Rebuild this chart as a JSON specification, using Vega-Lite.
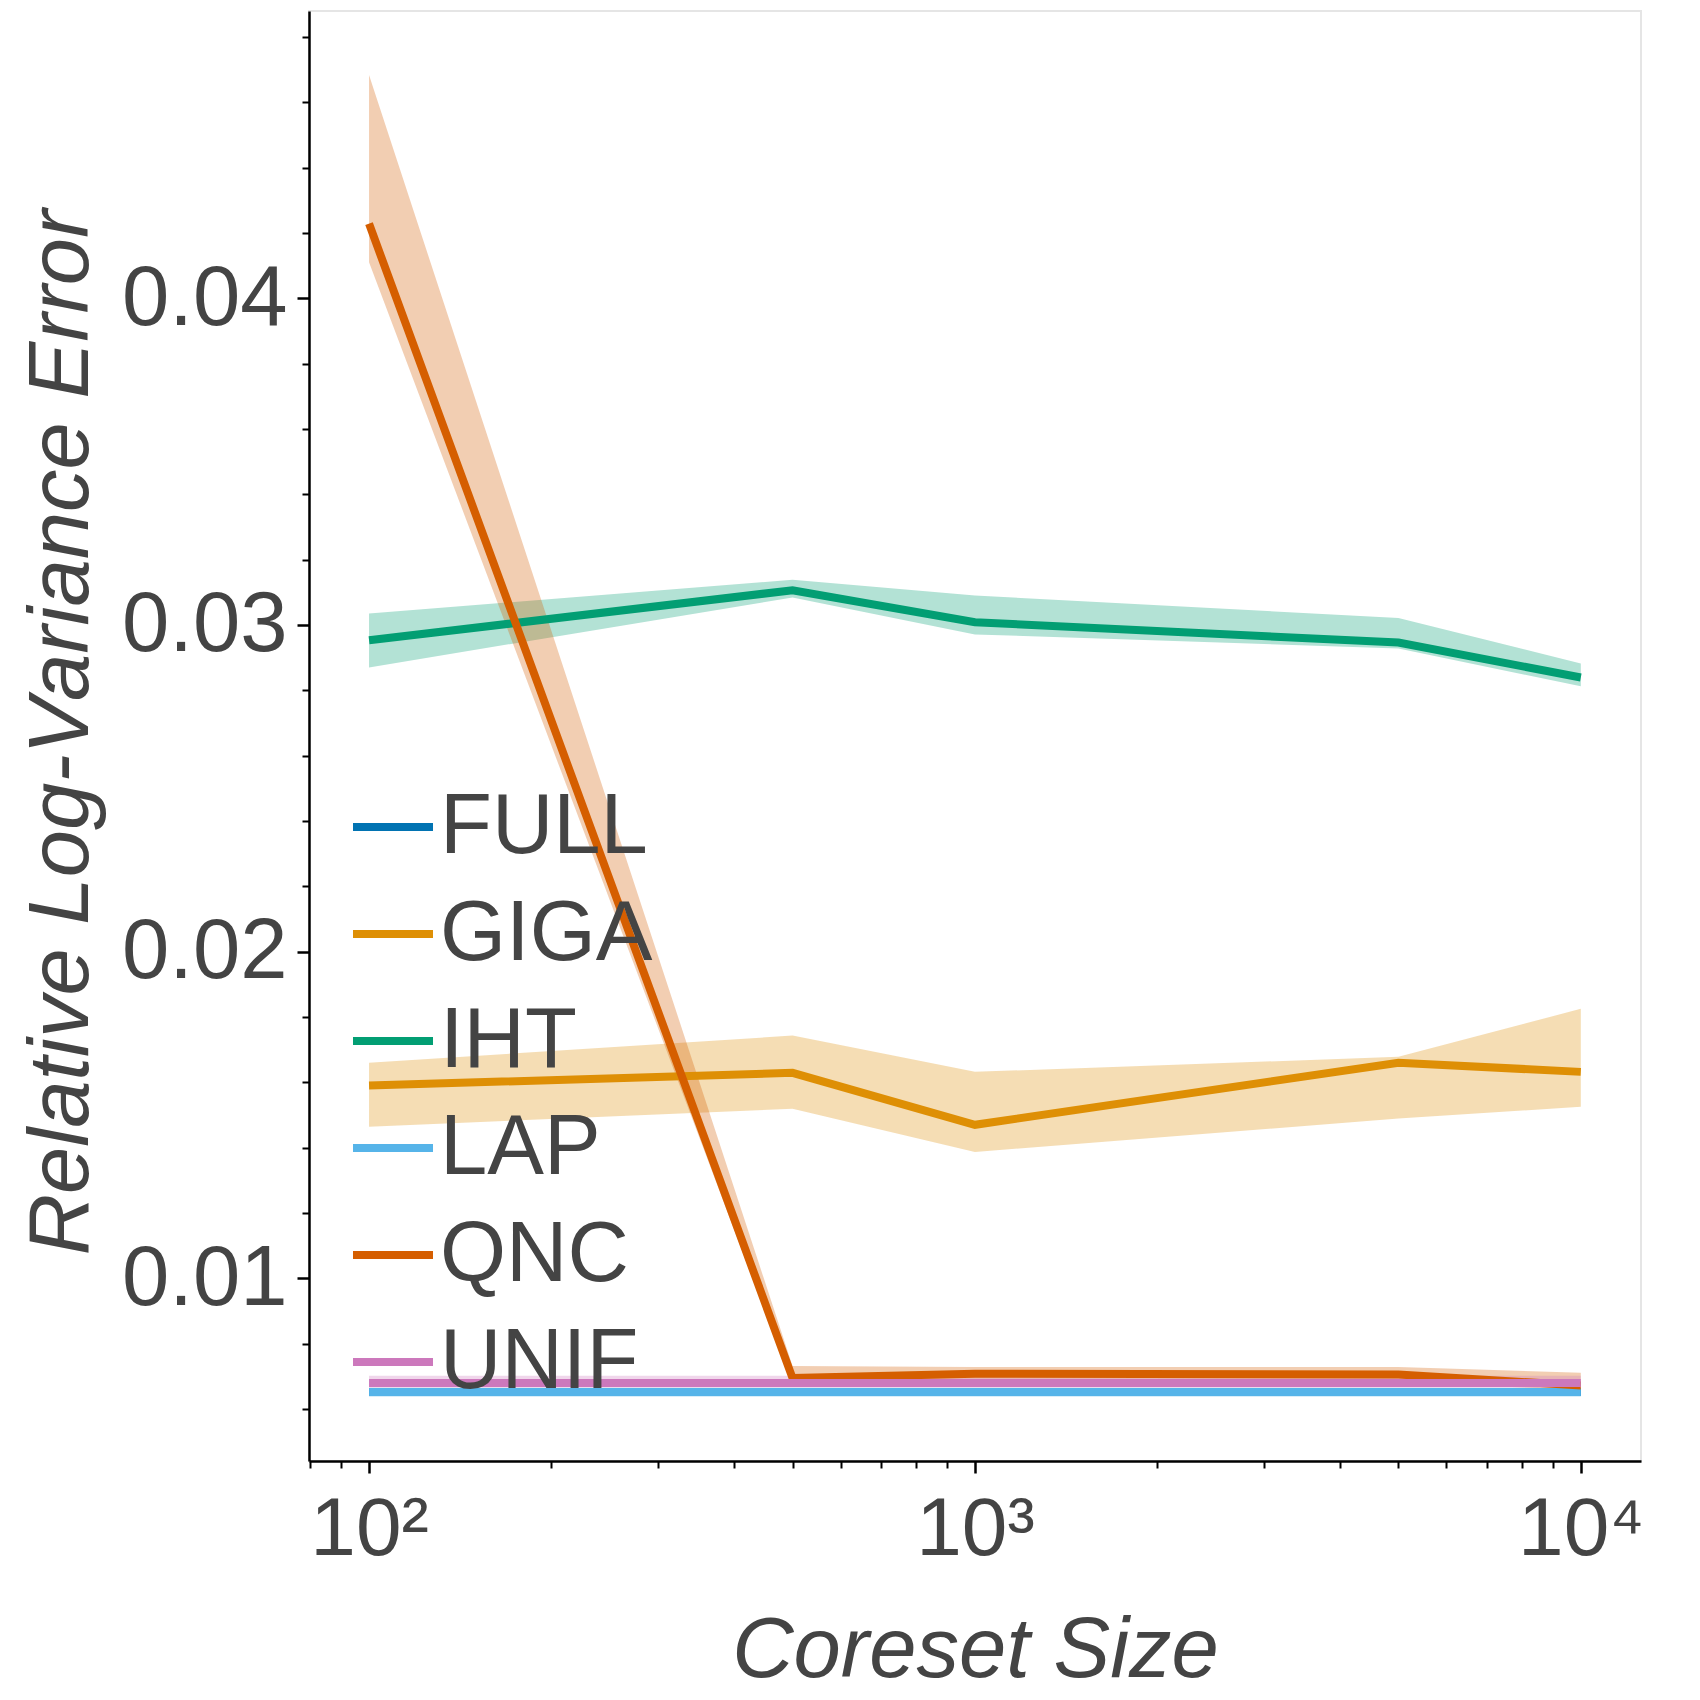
{
  "$schema": "https://vega.github.io/schema/vega-lite/v6.json",
  "width": 1332,
  "height": 1450,
  "autosize": {"type": "none"},
  "padding": {"left": 309, "top": 11, "right": 59, "bottom": 239},
  "background": "white",
  "config": {
    "font": "Liberation Sans",
    "view": {"stroke": "#e5e5e5", "strokeWidth": 2}
  },
  "data": {
    "values": [
      {"method": "FULL", "size": 100, "mean": 0.00652, "lo": 0.00642, "hi": 0.00662},
      {"method": "FULL", "size": 500, "mean": 0.00652, "lo": 0.00642, "hi": 0.00662},
      {"method": "FULL", "size": 1000, "mean": 0.00652, "lo": 0.00642, "hi": 0.00662},
      {"method": "FULL", "size": 5000, "mean": 0.00652, "lo": 0.00642, "hi": 0.00662},
      {"method": "FULL", "size": 10000, "mean": 0.00652, "lo": 0.00642, "hi": 0.00662},
      {"method": "GIGA", "size": 100, "mean": 0.0159, "lo": 0.01464, "hi": 0.0166},
      {"method": "GIGA", "size": 500, "mean": 0.01629, "lo": 0.01519, "hi": 0.01743},
      {"method": "GIGA", "size": 1000, "mean": 0.0147, "lo": 0.01387, "hi": 0.01632},
      {"method": "GIGA", "size": 5000, "mean": 0.0166, "lo": 0.01489, "hi": 0.01678},
      {"method": "GIGA", "size": 10000, "mean": 0.01632, "lo": 0.01525, "hi": 0.01825},
      {"method": "IHT", "size": 100, "mean": 0.02953, "lo": 0.0287, "hi": 0.03035},
      {"method": "IHT", "size": 500, "mean": 0.03106, "lo": 0.03084, "hi": 0.03138},
      {"method": "IHT", "size": 1000, "mean": 0.03008, "lo": 0.02971, "hi": 0.0309},
      {"method": "IHT", "size": 5000, "mean": 0.02946, "lo": 0.02928, "hi": 0.03021},
      {"method": "IHT", "size": 10000, "mean": 0.02839, "lo": 0.02812, "hi": 0.02882},
      {"method": "LAP", "size": 100, "mean": 0.00652, "lo": 0.00638, "hi": 0.00665},
      {"method": "LAP", "size": 500, "mean": 0.00652, "lo": 0.00638, "hi": 0.00665},
      {"method": "LAP", "size": 1000, "mean": 0.00652, "lo": 0.00638, "hi": 0.00665},
      {"method": "LAP", "size": 5000, "mean": 0.00652, "lo": 0.00638, "hi": 0.00665},
      {"method": "LAP", "size": 10000, "mean": 0.00652, "lo": 0.00638, "hi": 0.00665},
      {"method": "QNC", "size": 100, "mean": 0.04228, "lo": 0.0411, "hi": 0.04683},
      {"method": "QNC", "size": 500, "mean": 0.00695, "lo": 0.00675, "hi": 0.00732},
      {"method": "QNC", "size": 1000, "mean": 0.00708, "lo": 0.0068, "hi": 0.00729},
      {"method": "QNC", "size": 5000, "mean": 0.00706, "lo": 0.0068, "hi": 0.00729},
      {"method": "QNC", "size": 10000, "mean": 0.00672, "lo": 0.0066, "hi": 0.00711},
      {"method": "UNIF", "size": 100, "mean": 0.0068, "lo": 0.00665, "hi": 0.00702},
      {"method": "UNIF", "size": 500, "mean": 0.0068, "lo": 0.00665, "hi": 0.00702},
      {"method": "UNIF", "size": 1000, "mean": 0.0068, "lo": 0.00665, "hi": 0.00702},
      {"method": "UNIF", "size": 5000, "mean": 0.0068, "lo": 0.00665, "hi": 0.00702},
      {"method": "UNIF", "size": 10000, "mean": 0.0068, "lo": 0.00665, "hi": 0.00702}
    ]
  },
  "layer": [
    {
      "mark": {"type": "area", "fillOpacity": 0.3},
      "encoding": {
        "x": {
          "field": "size",
          "type": "quantitative",
          "scale": {"type": "log", "domain": [79.6, 12570], "nice": false},
          "axis": {
            "orient": "bottom",
            "values": [80, 90, 200, 300, 400, 500, 600, 700, 800, 900, 2000, 3000, 4000, 5000, 6000, 7000, 8000, 9000],
            "labels": false, "domain": false, "grid": false, "title": null,
            "tickSize": 7, "tickWidth": 2, "tickColor": "black"
          }
        },
        "y": {
          "field": "lo",
          "type": "quantitative",
          "scale": {"domain": [0.00441, 0.04879], "nice": false, "zero": false},
          "axis": {
            "orient": "left",
            "values": [0.006, 0.008, 0.012, 0.014, 0.016, 0.018, 0.022, 0.024, 0.026, 0.028, 0.032, 0.034, 0.036, 0.038, 0.042, 0.044, 0.046, 0.048],
            "labels": false, "domain": false, "grid": false, "title": null,
            "tickSize": 7, "tickWidth": 2, "tickColor": "black"
          }
        },
        "y2": {"field": "hi"},
        "color": {
          "field": "method",
          "type": "nominal",
          "scale": {
            "domain": ["FULL", "GIGA", "IHT", "LAP", "QNC", "UNIF"],
            "range": ["#0173b2", "#de8f05", "#029e73", "#56b4e9", "#d55e00", "#cc78bc"]
          }
        }
      }
    },
    {
      "mark": {"type": "line", "strokeWidth": 8},
      "encoding": {
        "x": {
          "field": "size",
          "type": "quantitative",
          "axis": {
            "orient": "bottom",
            "values": [100, 1000, 10000],
            "labelExpr": "datum.value == 100 ? '10²' : datum.value == 1000 ? '10³' : '10⁴'",
            "labelFontSize": 82, "labelColor": "#444", "labelPadding": 16, "labelFlush": false,
            "tickSize": 12, "tickWidth": 2.5, "tickColor": "black",
            "domainColor": "black", "domainWidth": 2.5, "grid": false,
            "title": "Coreset Size", "titleFontSize": 85, "titleFontStyle": "italic",
            "titleFontWeight": "normal", "titleColor": "#444",
            "titleX": 666, "titleY": 215, "titleBaseline": "alphabetic"
          }
        },
        "y": {
          "field": "mean",
          "type": "quantitative",
          "axis": {
            "orient": "left",
            "values": [0.01, 0.02, 0.03, 0.04],
            "format": ".2f",
            "labelFontSize": 85, "labelColor": "#444", "labelPadding": 10,
            "tickSize": 12, "tickWidth": 2.5, "tickColor": "black",
            "domainColor": "black", "domainWidth": 2.5, "grid": false,
            "title": "Relative Log-Variance Error", "titleFontSize": 85, "titleFontStyle": "italic",
            "titleFontWeight": "normal", "titleColor": "#444",
            "titleX": -222, "titleY": 721, "titleBaseline": "alphabetic"
          }
        },
        "color": {
          "field": "method",
          "type": "nominal",
          "legend": {
            "orient": "none", "legendX": 40, "legendY": 772,
            "title": null, "symbolType": "stroke", "symbolStrokeWidth": 8,
            "symbolSize": 6400, "symbolOpacity": 1,
            "labelFontSize": 85, "labelColor": "#444", "labelOffset": 3, "labelLimit": 600,
            "rowPadding": 20,
            "encode": {"symbols": {"update": {"opacity": {"value": 1}, "strokeOpacity": {"value": 1}}}}
          }
        }
      }
    }
  ],
  "resolve": {"axis": {"x": "independent", "y": "independent"}}
}
